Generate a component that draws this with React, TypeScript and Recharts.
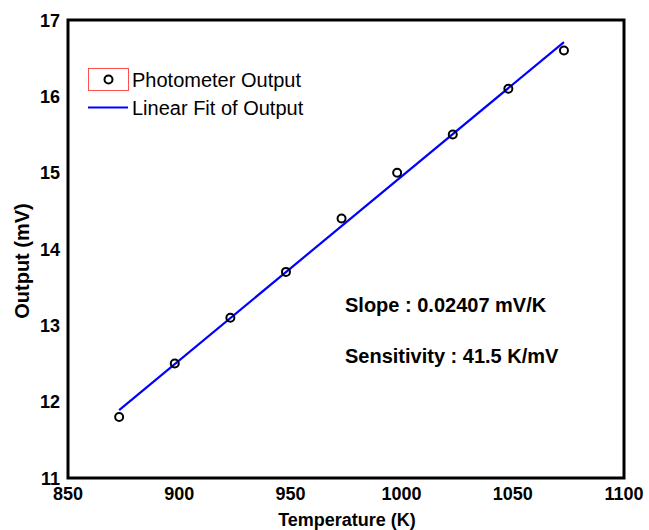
import {
  ComposedChart,
  Line,
  Scatter,
  XAxis,
  YAxis,
  ReferenceArea,
} from "recharts";

// temperatures in K and the photometer output in mV
const temperatures = [873, 898, 923, 948, 973, 998, 1023, 1048, 1073];
const outputs = [11.8, 12.5, 13.1, 13.7, 14.4, 15.0, 15.5, 16.1, 16.6];

// ends of the linear fit line
const fitTemps = [873, 1073];
const fitOutputs = [11.89, 16.71];

const xTicks = [850, 900, 950, 1000, 1050, 1100];
const yTicks = [11, 12, 13, 14, 15, 16, 17];

const measured = temperatures.map((t, i) => ({ temp: t, output: outputs[i] }));
const fit = fitTemps.map((t, i) => ({ temp: t, fit: fitOutputs[i] }));

const FONT = "'Liberation Sans', Arial, sans-serif";

function OpenCircle(props: any) {
  const { cx, cy } = props;
  return <circle cx={cx} cy={cy} r={4} fill="none" stroke="#000" strokeWidth={2} />;
}

function XTick({ x, y, payload }: any) {
  return (
    <text x={x} y={y} dy={14} textAnchor="middle" fontFamily={FONT} fontWeight="bold" fontSize={18} fill="#000">
      {payload.value}
    </text>
  );
}

function YTick({ x, y, payload }: any) {
  return (
    <text x={x} y={y} dy={6.5} textAnchor="end" fontFamily={FONT} fontWeight="bold" fontSize={18} fill="#000">
      {payload.value}
    </text>
  );
}

function LegendBox() {
  return (
    <div
      style={{
        position: "absolute",
        left: 88,
        top: 68,
        fontFamily: FONT,
        fontSize: 20,
        color: "#000",
        lineHeight: "22px",
      }}
    >
      <div style={{ display: "flex", alignItems: "center", height: 23 }}>
        <svg width={41} height={23} style={{ marginRight: 3 }}>
          <rect x={0.5} y={0.5} width={40} height={22} fill="none" stroke="#ff5050" strokeWidth={1} />
          <circle cx={20.5} cy={11.5} r={4} fill="none" stroke="#000" strokeWidth={2} />
        </svg>
        <span>Photometer Output</span>
      </div>
      <div style={{ display: "flex", alignItems: "center", height: 23, marginTop: 5 }}>
        <svg width={41} height={23} style={{ marginRight: 3 }}>
          <line x1={0} y1={11.5} x2={40} y2={11.5} stroke="#0000ff" strokeWidth={2} />
        </svg>
        <span>Linear Fit of Output</span>
      </div>
    </div>
  );
}

export default function App() {
  return (
    <div style={{ position: "absolute", left: 0, top: 0, width: 649, height: 530, background: "#fff" }}>
      <ComposedChart
        width={649}
        height={530}
        margin={{ top: 20, right: 25, bottom: 0, left: 0 }}
      >
        <XAxis
          dataKey="temp"
          type="number"
          domain={[850, 1100]}
          ticks={xTicks}
          allowDuplicatedCategory={false}
          axisLine={false}
          tickLine={false}
          tick={<XTick />}
          height={52}
          interval={0}
        />
        <YAxis
          type="number"
          domain={[11, 17]}
          ticks={yTicks}
          axisLine={false}
          tickLine={false}
          tick={<YTick />}
          width={68}
          interval={0}
        />
        <ReferenceArea
          x1={850}
          x2={1100}
          y1={11}
          y2={17}
          fill="none"
          stroke="#000"
          strokeWidth={3}
          ifOverflow="visible"
        />
        <Line
          data={fit}
          dataKey="fit"
          stroke="#0000ff"
          strokeWidth={2.2}
          dot={false}
          isAnimationActive={false}
        />
        <Scatter
          data={measured}
          dataKey="output"
          shape={<OpenCircle />}
          isAnimationActive={false}
        />
      </ComposedChart>
      <LegendBox />
      <svg
        width={649}
        height={530}
        style={{ position: "absolute", left: 0, top: 0, pointerEvents: "none" }}
      >
        <text x={345} y={312} fontFamily={FONT} fontWeight="bold" fontSize={20} fill="#000">
          Slope : 0.02407 mV/K
        </text>
        <text x={345} y={363} fontFamily={FONT} fontWeight="bold" fontSize={20} fill="#000">
          Sensitivity : 41.5 K/mV
        </text>
        <text x={347} y={526} textAnchor="middle" fontFamily={FONT} fontWeight="bold" fontSize={18} fill="#000">
          Temperature (K)
        </text>
        <text
          x={29}
          y={261}
          transform="rotate(-90 29 261)"
          textAnchor="middle"
          fontFamily={FONT}
          fontWeight="bold"
          fontSize={20}
          fill="#000"
        >
          Output (mV)
        </text>
      </svg>
    </div>
  );
}
